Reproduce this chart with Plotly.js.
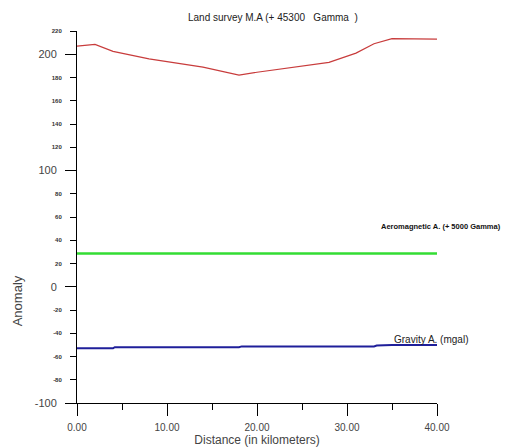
<!DOCTYPE html>
<html><head><meta charset="utf-8">
<script src="https://cdn.plot.ly/plotly-3.0.1.min.js"></script>
<style>html,body{margin:0;padding:0;background:#fff}#c{width:517px;height:448px}</style>
</head><body><div id="c"></div>
<script>
// Land survey magnetic anomaly (+45300 Gamma)
const landX = [0, 2, 4, 8, 14, 18, 20, 24, 28, 31, 33, 35, 37.5, 40];
const landY = [207, 208.5, 202.5, 196, 189, 182, 184.5, 188.5, 193, 201, 209, 213.5, 213.5, 213];
// Aeromagnetic anomaly (+5000 Gamma)
const aeroX = [0, 40];
const aeroY = [28.5, 28.5];
// Gravity anomaly (mgal)
const gravX = [0, 4, 4.2, 18, 18.3, 33, 33.3, 35, 40];
const gravY = [-53, -53, -52, -52, -51.3, -51.3, -50.5, -50, -50];

const majorY = [-100, 0, 100, 200];
const minorY = [-80, -60, -40, -20, 20, 40, 60, 80, 120, 140, 160, 180, 220];
const xTicks = [0, 10, 20, 30, 40];

const traces = [
  {x: landX, y: landY, mode: 'lines', line: {color: '#c83c3c', width: 1.2}, showlegend: false},
  {x: aeroX, y: aeroY, mode: 'lines', line: {color: '#33dd33', width: 2.5}, showlegend: false},
  {x: gravX, y: gravY, mode: 'lines', line: {color: '#1f1f9a', width: 2}, showlegend: false},
  {x: [0], y: [minorY[0]], yaxis: 'y2', mode: 'markers', marker: {opacity: 0}, showlegend: false, hoverinfo: 'skip'}
];

const layout = {
  width: 517, height: 448,
  margin: {l: 77, r: 80, t: 31, b: 45},
  paper_bgcolor: '#fff', plot_bgcolor: '#fff',
  font: {family: 'Liberation Sans, Arial, sans-serif', color: '#333'},
  xaxis: {
    range: [0, 40], showgrid: false, zeroline: false,
    showline: true, linecolor: '#000', linewidth: 1,
    tickmode: 'array', tickvals: xTicks, ticktext: xTicks.map(v => v.toFixed(2)),
    ticks: 'outside', ticklen: 12, tickcolor: '#000', tickwidth: 1,
    ticklabelstandoff: 3,
    minor: {dtick: 5, tick0: 0, ticks: 'outside', ticklen: 6, tickcolor: '#000', showgrid: false},
    tickfont: {size: 10, color: '#444'},
    title: {text: 'Distance (in kilometers)', font: {size: 12, color: '#444'}, standoff: 0}
  },
  yaxis: {
    range: [-100, 220], showgrid: false, zeroline: false,
    showline: true, linecolor: '#000', linewidth: 1,
    tickmode: 'array', tickvals: majorY, ticktext: majorY.map(String),
    ticks: 'outside', ticklen: 11, tickcolor: '#000', tickwidth: 1,
    ticklabelstandoff: 6,
    tickfont: {size: 11, color: '#444'}
  },
  yaxis2: {
    range: [-100, 220], overlaying: 'y', side: 'left', showgrid: false, zeroline: false,
    showline: false,
    tickmode: 'array', tickvals: minorY, ticktext: minorY.map(v => '<b>' + v + '</b>'),
    ticks: 'outside', ticklen: 6, tickcolor: '#000', tickwidth: 1,
    ticklabelstandoff: 7,
    tickfont: {size: 6, color: '#333'}
  },
  annotations: [
    {text: 'Land survey M.A (+ 45300   Gamma  )', xref: 'paper', yref: 'paper', x: 0.545, y: 1.035,
     xanchor: 'center', yanchor: 'middle', showarrow: false, font: {size: 10, color: '#222'}},
    {text: '<b>Aeromagnetic A. (+ 5000 Gamma)</b>', xref: 'x', yref: 'y', x: 33.5, y: 52,
     xanchor: 'left', yanchor: 'middle', showarrow: false,
     font: {size: 7.5, color: '#111', family: 'Liberation Sans, Arial, sans-serif'}},
    {text: 'Gravity A. (mgal)', xref: 'x', yref: 'y', x: 35, y: -45.5,
     xanchor: 'left', yanchor: 'middle', showarrow: false, font: {size: 10, color: '#222'}},
    {text: 'Anomaly', xref: 'paper', yref: 'paper', x: -0.165, y: 0.275, textangle: -90,
     xanchor: 'center', yanchor: 'middle', showarrow: false, font: {size: 13, color: '#444'}}
  ]
};
Plotly.newPlot('c', traces, layout, {staticPlot: true});
</script></body></html>
